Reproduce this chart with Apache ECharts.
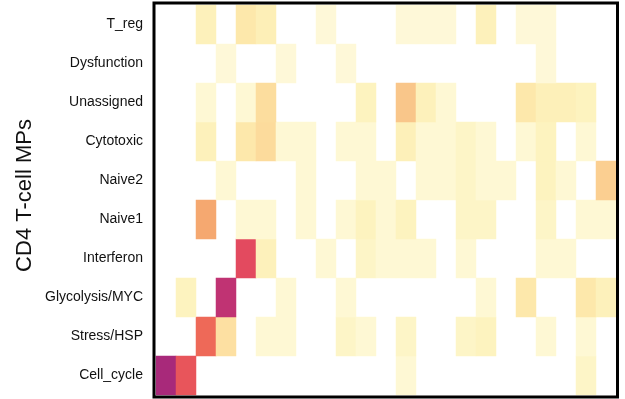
<!DOCTYPE html>
<html>
<head>
<meta charset="utf-8">
<script src="https://cdn.jsdelivr.net/npm/echarts@6/dist/echarts.min.js"></script>
<style>
  html, body { margin: 0; padding: 0; background: #fff; }
  #chart { width: 625px; height: 399px; }
</style>
</head>
<body>
<div id="chart"></div>
<script>
// Meta-program rows, listed bottom to top
const programs = ['Cell_cycle', 'Stress/HSP', 'Glycolysis/MYC', 'Interferon', 'Naive1',
                  'Naive2', 'Cytotoxic', 'Unassigned', 'Dysfunction', 'T_reg'];

// Unlabelled columns (23 programs being compared)
const columns = Array.from({ length: 23 }, (_, i) => String(i + 1));

// Overlap scores per row, one value per column (0 = no overlap, left blank)
const cellCycle   = [1.00, .75, 0, 0, 0, 0, 0, 0, 0, 0, 0, 0, .05, 0, 0, 0, 0, 0, 0, 0, 0, .08, 0];
const stressHsp   = [0, 0, .67, .25, 0, .05, .05, 0, 0, .08, .05, 0, .08, 0, 0, .08, .10, 0, 0, .05, 0, .05, 0];
const glycolysis  = [0, .10, 0, .90, 0, 0, .05, 0, 0, .05, 0, 0, 0, 0, 0, 0, .05, 0, .20, 0, 0, .20, .12];
const interferon  = [0, 0, 0, 0, .80, .12, 0, 0, .05, 0, .08, .05, .05, .05, 0, .05, 0, 0, 0, .05, .05, 0, 0];
const naive1      = [0, 0, .50, 0, .05, .05, 0, .05, 0, .05, .10, .05, .10, 0, 0, .08, .08, 0, 0, .08, 0, .05, .05];
const naive2      = [0, 0, 0, .05, 0, 0, 0, .05, 0, 0, .05, .05, 0, .05, .05, .08, .05, .05, 0, .10, .05, 0, .35];
const cytotoxic   = [0, 0, .12, 0, .20, .28, .05, .05, 0, .05, .05, 0, .13, .05, .05, .08, .05, 0, .05, .10, 0, .05, 0];
const unassigned  = [0, 0, .05, 0, .05, .27, 0, 0, 0, 0, .10, 0, .40, .12, .05, 0, 0, 0, .20, .13, .13, .10, 0];
const dysfunction = [0, 0, 0, .04, 0, 0, .04, 0, 0, .04, 0, 0, 0, 0, 0, 0, 0, 0, 0, .04, 0, 0, 0];
const tReg        = [0, 0, .12, 0, .20, .14, 0, 0, .04, 0, 0, 0, .04, .04, .04, 0, .12, 0, .04, .04, 0, 0, 0];

const rows = [cellCycle, stressHsp, glycolysis, interferon, naive1,
              naive2, cytotoxic, unassigned, dysfunction, tReg];

const axisTitle = 'CD4 T-cell MPs';

// Flatten into [col, row, value] triples, skipping empty cells
const cells = [];
rows.forEach((vals, r) => {
  vals.forEach((v, c) => { if (v > 0) cells.push([c, r, v]); });
});

const FONT = '"Liberation Sans", Arial, Helvetica, sans-serif';

const chart = echarts.init(document.getElementById('chart'), null, { renderer: 'canvas' });

chart.setOption({
  animation: false,
  backgroundColor: '#ffffff',
  grid: { left: 156, top: 5, width: 460, height: 390, containLabel: false },
  xAxis: {
    type: 'category',
    data: columns,
    show: false
  },
  yAxis: {
    type: 'category',
    data: programs,
    axisLine: { show: false },
    axisTick: { show: false },
    splitLine: { show: false },
    axisLabel: {
      margin: 13,
      fontSize: 14,
      fontFamily: FONT,
      color: '#111'
    }
  },
  visualMap: {
    show: false,
    type: 'continuous',
    min: 0,
    max: 1,
    dimension: 2,
    inRange: {
      color: ['#fefce9', '#fdf3bf', '#fde8ab', '#fcd898', '#f9c68a', '#f5a870',
              '#f17e5e', '#ec6056', '#e34a5f', '#c03373', '#a8297a']
    }
  },
  series: [{
    type: 'heatmap',
    data: cells,
    itemStyle: { borderWidth: 0 },
    emphasis: { disabled: true }
  }],
  graphic: [{
    type: 'rect',
    z: 100,
    shape: { x: 154, y: 3, width: 463.5, height: 394 },
    style: { fill: 'none', stroke: '#000', lineWidth: 3 }
  }, {
    // rotated y-axis title
    type: 'text',
    x: 25,
    y: 195.5,
    rotation: Math.PI / 2,
    style: {
      text: axisTitle,
      fontSize: 22,
      fontFamily: FONT,
      fill: '#111',
      align: 'center',
      verticalAlign: 'middle'
    }
  }]
});
</script>
</body>
</html>
